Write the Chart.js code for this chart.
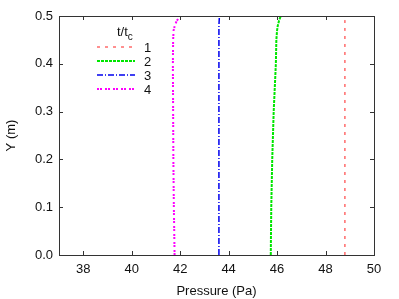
<!DOCTYPE html>
<html>
<head>
<meta charset="utf-8">
<script src="https://cdn.jsdelivr.net/npm/chart.js@4.4.0/dist/chart.umd.min.js"></script>
<style>
  html, body { margin: 0; padding: 0; background: #fff; }
  #wrap { width: 399px; height: 299px; }
</style>
</head>
<body>
<div id="wrap"><canvas id="c" width="399" height="299"></canvas></div>
<script>
// heights (m) where pressure profiles were read
var yLevels = [0, 0.1, 0.2, 0.3, 0.4, 0.45, 0.47, 0.48, 0.49, 0.5];
// pressure (Pa) at each height for t/tc = 1..4
var p1 = [48.8, 48.8, 48.8, 48.8, 48.8, 48.8, 48.8, 48.8, 48.8, 48.8];
var p2 = [45.74, 45.76, 45.8, 45.86, 45.95, 45.97, 46.0, 46.03, 46.08, 46.15];
var p3 = [43.6, 43.6, 43.6, 43.6, 43.6, 43.6, 43.6, 43.6, 43.61, 43.62];
var p4 = [41.77, 41.74, 41.72, 41.71, 41.7, 41.71, 41.73, 41.78, 41.86, 42.0];
var seriesLabels = ['1', '2', '3', '4'];
var xTicks = [38, 40, 42, 44, 46, 48, 50];
var yTicks = [0, 0.1, 0.2, 0.3, 0.4, 0.5];

var FONT = '"Liberation Sans", Arial, sans-serif';

function pts(xs) {
    return xs.map(function (x, i) { return { x: x, y: yLevels[i] }; });
}

function ds(label, xs, color, width, dash) {
    return {
        label: label,
        data: pts(xs),
        borderColor: color,
        backgroundColor: color,
        borderWidth: width,
        borderDash: dash,
        showLine: true,
        pointRadius: 0,
        tension: 0,
        fill: false
    };
}

// box, inward ticks and in-plot legend
var framePlugin = {
    id: 'frame',
    afterDraw: function (chart) {
        var ctx = chart.ctx, a = chart.chartArea;
        var xs = chart.scales.x, ys = chart.scales.y;
        ctx.save();
        ctx.strokeStyle = '#333';
        ctx.lineWidth = 1;
        ctx.setLineDash([]);
        ctx.strokeRect(a.left + 0.5, a.top + 0.5, a.right - a.left, a.bottom - a.top);
        ctx.beginPath();
        xTicks.forEach(function (t) {
            var px = Math.round(xs.getPixelForValue(t)) + 0.5;
            ctx.moveTo(px, a.bottom); ctx.lineTo(px, a.bottom - 4);
            ctx.moveTo(px, a.top); ctx.lineTo(px, a.top + 4);
        });
        yTicks.forEach(function (t) {
            var py = Math.round(ys.getPixelForValue(t)) + 0.5;
            ctx.moveTo(a.left, py); ctx.lineTo(a.left + 4, py);
            ctx.moveTo(a.right, py); ctx.lineTo(a.right - 4, py);
        });
        ctx.stroke();

        // legend
        ctx.fillStyle = '#111';
        ctx.font = '13px ' + FONT;
        ctx.textBaseline = 'alphabetic';
        ctx.textAlign = 'left';
        ctx.fillText('t/t', 117, 36);
        var w = ctx.measureText('t/t').width;
        ctx.font = '10px ' + FONT;
        ctx.fillText('c', 117 + w, 40);
        ctx.font = '13px ' + FONT;
        ctx.textBaseline = 'middle';
        chart.data.datasets.forEach(function (d, i) {
            var y = 47 + i * 14;
            ctx.strokeStyle = d.borderColor;
            ctx.lineWidth = d.borderWidth;
            ctx.setLineDash(d.borderDash);
            ctx.beginPath();
            ctx.moveTo(97, y); ctx.lineTo(135, y);
            ctx.stroke();
            ctx.fillText(d.label, 144, y + 1);
        });
        ctx.restore();
    }
};

new Chart(document.getElementById('c'), {
    type: 'scatter',
    data: {
        datasets: [
            ds(seriesLabels[0], p1, '#ff2020', 1, [3, 5]),
            ds(seriesLabels[1], p2, '#00e600', 2, [3, 1]),
            ds(seriesLabels[2], p3, '#0000ee', 1.5, [6, 2, 1, 2]),
            ds(seriesLabels[3], p4, '#ff00ff', 2, [2, 1, 2, 3])
        ]
    },
    options: {
        responsive: false,
        animation: false,
        layout: { padding: { top: 16, right: 25, left: 0, bottom: 0 } },
        plugins: { legend: { display: false }, tooltip: { enabled: false } },
        scales: {
            x: {
                type: 'linear', min: 37, max: 50,
                afterBuildTicks: function (s) { s.ticks = xTicks.map(function (v) { return { value: v }; }); },
                afterFit: function (s) { s.height = 44; },
                grid: { display: false, drawTicks: false },
                border: { display: false },
                ticks: { color: '#111', font: { family: FONT, size: 13 }, padding: 7, maxRotation: 0 },
                title: { display: true, text: 'Pressure (Pa)', color: '#111', font: { family: FONT, size: 13 }, padding: { top: 2, bottom: 0 } }
            },
            y: {
                type: 'linear', min: 0, max: 0.5,
                afterBuildTicks: function (s) { s.ticks = yTicks.map(function (v) { return { value: v }; }); },
                afterFit: function (s) { s.width = 59; },
                grid: { display: false, drawTicks: false },
                border: { display: false },
                ticks: { color: '#111', font: { family: FONT, size: 13 }, padding: 6,
                         callback: function (v) { return v.toFixed(1); } },
                title: { display: true, text: 'Y (m)', color: '#111', font: { family: FONT, size: 13 }, padding: { top: 4, bottom: 10 } }
            }
        }
    },
    plugins: [framePlugin]
});
</script>
</body>
</html>
